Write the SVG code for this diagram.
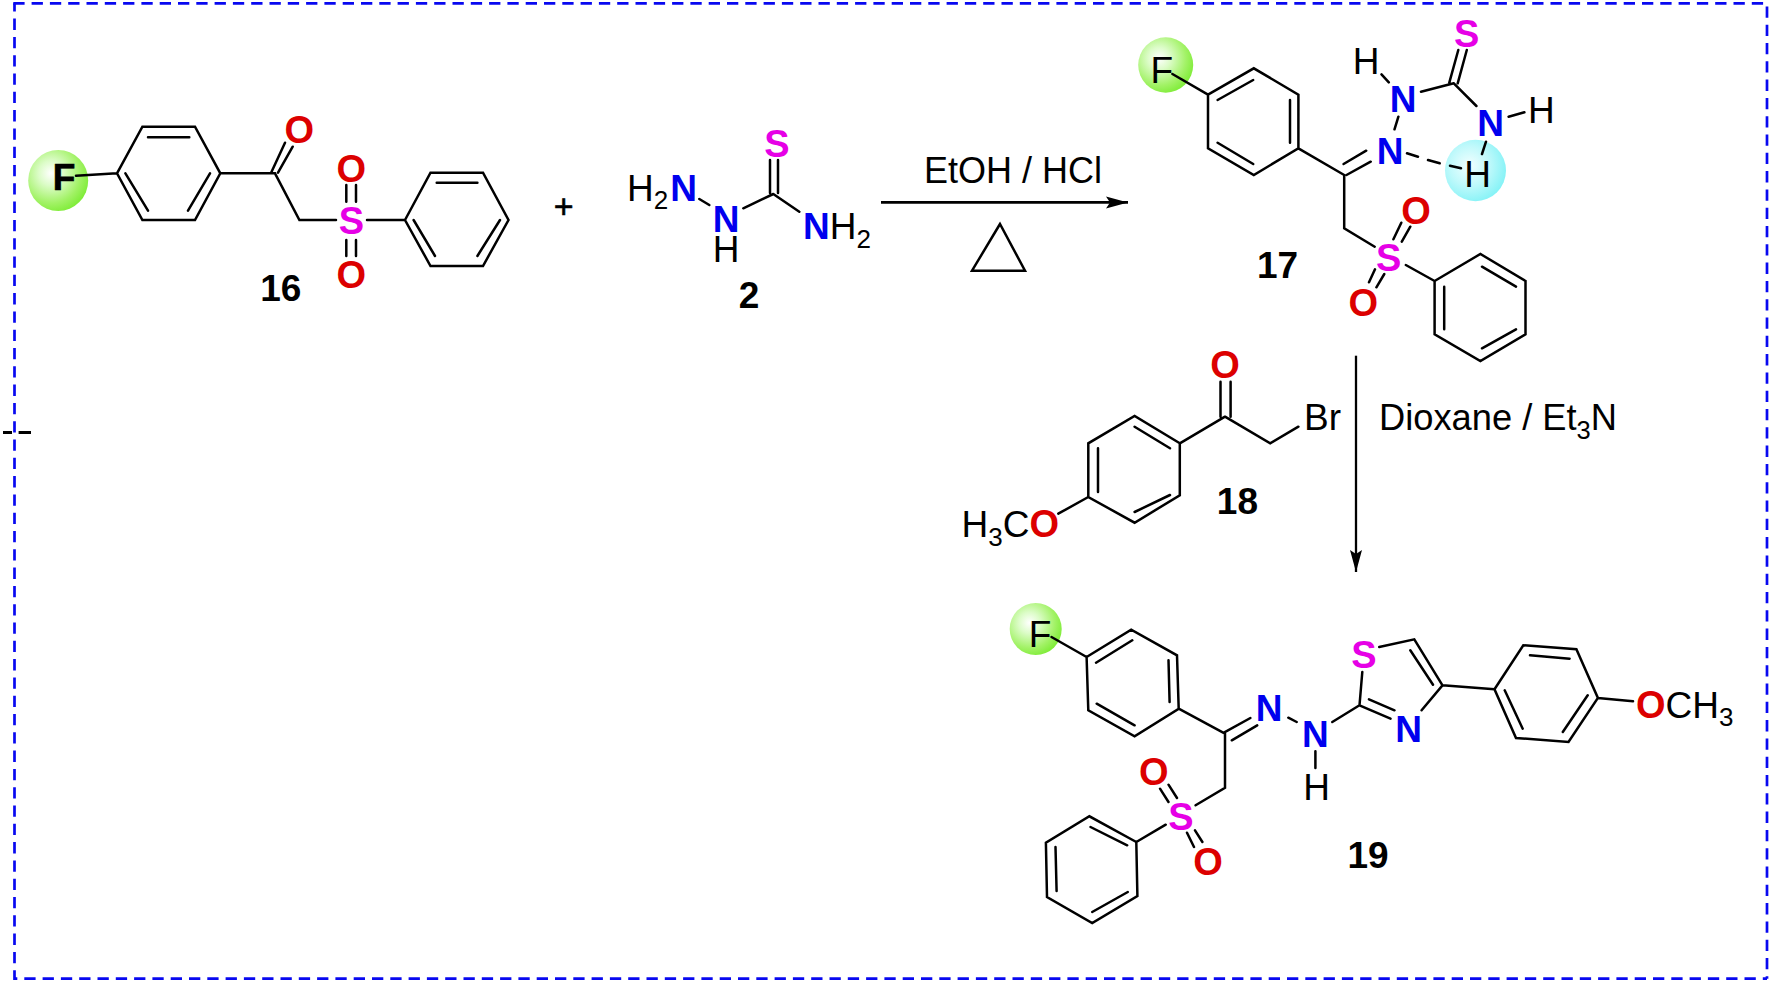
<svg xmlns="http://www.w3.org/2000/svg" width="1772" height="983" viewBox="0 0 1772 983">
<style>
.b{fill:none;stroke:#000;stroke-width:2.5;stroke-linecap:round;stroke-linejoin:miter}
.fr{fill:none;stroke:#0808f0;stroke-width:2.7;stroke-dasharray:11.3 7}
text{font-family:"Liberation Sans",Arial,sans-serif;font-size:37px;fill:#000;text-anchor:middle}
.N{fill:#0000ee;font-weight:700;font-size:37px}.O{fill:#dc0000;font-weight:700;font-size:38px}.S{fill:#e600e6;font-weight:700;font-size:38px}
.l{font-weight:700;font-size:37px}.s{text-anchor:start}
.sub{font-size:26px}
</style>
<defs>
<radialGradient id="gr" cx="38%" cy="38%" r="68%"><stop offset="0" stop-color="#ffffff"/><stop offset="0.3" stop-color="#dcfcc8"/><stop offset="0.72" stop-color="#a2f266"/><stop offset="1" stop-color="#7cec34"/></radialGradient>
<radialGradient id="cy" cx="40%" cy="42%" r="65%"><stop offset="0" stop-color="#f2ffff"/><stop offset="0.5" stop-color="#c0f9fb"/><stop offset="1" stop-color="#80f2f6"/></radialGradient>
<marker id="ah" markerUnits="userSpaceOnUse" markerWidth="24" markerHeight="14" refX="22" refY="7" orient="auto"><path d="M0 1L22 7L0 13L4 7Z" fill="#000"/></marker>
</defs>
<g id="frame">
<path class="fr" d="M13.3 3.3H1767V978.7"/>
<path class="fr" d="M14.5 3.3V978.7H1767" stroke-dashoffset="3"/>
</g>
<path id="stray" d="M3 432.5H12M18.6 432.5H31" stroke="#000" stroke-width="2.8" fill="none"/>
<g id="connectors">
<line x1="881" y1="202.4" x2="1128" y2="202.4" stroke="#000" stroke-width="2.6" marker-end="url(#ah)"/>
<line x1="1356" y1="355.7" x2="1356" y2="572" stroke="#000" stroke-width="2.3" marker-end="url(#ah)"/>
</g>
<g id="heat"><path class="b" d="M1000 224L972 270.7H1025Z"/></g>
<g id="c16">
<ellipse cx="58.2" cy="180.5" rx="30" ry="30.5" fill="url(#gr)"/>
<path class="b" d="M76 175.7L117 173.3M117 173.3L142.4 126.7H195L220.3 173.3L195 220H142.4ZM148 137.3H189.3M125.4 173.3L148 210.7M188 210.7L210 173.3M220.3 173.3H275M271 173L285 142.7M278 172.7L292.7 146.7M275 173.3L299.4 220H336M346.3 185V201.7M356 185V201.7M346.3 240V256M356 240V256M367 220H405M405 220L430.5 172.7H483L508.5 220L483 266H430.5ZM436.7 182.7H477.4M413.6 220L435 256M500 220L477.4 256"/>
<text x="64" y="190.3" class="l" stroke="#000" stroke-width="0.7">F</text>
<text x="299.4" y="142.5" class="O">O</text><text x="351.4" y="233.5" class="S">S</text><text x="351.4" y="181.5" class="O">O</text><text x="351.4" y="288" class="O">O</text>
<text x="280.8" y="300.5" class="l">16</text>
</g>
<g id="plus"><text x="563.8" y="218.2" stroke="#000" stroke-width="0.6" style="font-size:34px">+</text></g>
<g id="c2">
<path class="b" d="M699.3 199L709.3 205M743.3 208.3L773.3 194M770 193V160M778 193V160M773.3 194L799.3 211.7"/>
<text x="627" y="200.5" class="s">H<tspan class="sub" dy="8.5">2</tspan><tspan class="N" dx="2" dy="-8.5">N</tspan></text>
<text x="726" y="231.5" class="N">N</text><text x="726" y="262">H</text>
<text x="777" y="156.5" class="S">S</text>
<text x="803" y="239" class="s"><tspan class="N">N</tspan>H<tspan class="sub" dy="8.5">2</tspan></text>
<text x="749" y="308" class="l">2</text>
</g>
<g id="cond1"><text x="1013" y="183" textLength="178" lengthAdjust="spacingAndGlyphs">EtOH / HCl</text></g>
<g id="c17">
<ellipse cx="1165.7" cy="65" rx="27.5" ry="27.7" fill="url(#gr)"/>
<ellipse cx="1475.5" cy="170.5" rx="30.5" ry="30.7" fill="url(#cy)"/>
<path class="b" d="M1172.4 74L1208 94.7M1208 94.7L1253.8 68.3L1298.4 94.7V148.3L1253.8 175L1208 148.3ZM1217.6 100L1253.2 80M1290 100V142.7M1217.6 142.7L1253.2 164M1298.4 148.3L1344.2 175M1343.6 164L1366.2 150.7M1346.5 175L1370.7 161.7M1394.5 129.3L1398.4 116.7M1381.5 74.3L1388.8 82.3M1421 91.7L1453.8 83.3M1449.3 82.7L1458.3 50M1457.7 83.3L1466.8 50M1453.8 83.3L1476.4 106M1508.6 116.7L1524.4 112.3M1486 141.7L1482 154M1407 153.3L1418 156.7M1428 160L1439.7 163.3M1450 165.7L1461 168.3M1344.2 175V228.3L1374.7 246.7M1393.4 239.3L1401.3 222.7M1401.8 241.7L1410.3 226.7M1369 282.3L1375 269.3M1376.4 287.3L1384.3 274M1405.8 265L1434.6 281M1434.6 281L1480.4 254L1525.5 281V334.3L1480.4 361L1434.6 334.3ZM1482 266.7L1516 286.7M1444.2 286.7V329.3M1482 348.3L1516 329.3"/>
<text x="1161.7" y="83">F</text>
<text x="1390" y="163.5" class="N">N</text><text x="1403" y="111.5" class="N">N</text><text x="1366" y="74">H</text>
<text x="1466.8" y="46.5" class="S">S</text><text x="1490.5" y="136" class="N">N</text><text x="1541.4" y="122.5">H</text>
<text x="1477.5" y="186.5">H</text>
<text x="1388.8" y="270.5" class="S">S</text><text x="1416" y="223.5" class="O">O</text><text x="1363.4" y="315.5" class="O">O</text>
<text x="1277.5" y="277.7" class="l">17</text>
</g>
<g id="cond2"><text x="1379" y="430" class="s" textLength="238" lengthAdjust="spacingAndGlyphs">Dioxane / Et<tspan class="sub" dy="8.5">3</tspan><tspan dy="-8.5">N</tspan></text></g>
<g id="c18">
<path class="b" d="M1220.5 416.7V381.7M1230.6 416.7V381.7M1225 416.7L1179.8 443.3M1225 416.7L1270.2 443.3L1298.4 426.7M1179.8 443.3L1134.6 416L1088.3 443.3V497L1134.6 522.7L1179.8 495.3ZM1134.6 426.7L1170 448.3M1098 448.3V492M1134.6 512L1170 495M1088.3 497L1058.3 513.7"/>
<text x="1225" y="378" class="O">O</text>
<text x="1304" y="430" class="s">Br</text>
<text x="961.5" y="537" class="s">H<tspan class="sub" dy="8.5">3</tspan><tspan dy="-8.5">C</tspan><tspan class="O">O</tspan></text>
<text x="1237.4" y="514" class="l">18</text>
</g>
<g id="c19">
<ellipse cx="1035.7" cy="629" rx="26" ry="26" fill="url(#gr)"/>
<path class="b" d="M1051.5 637L1086.6 657M1086.6 657L1131.2 629.7L1177 655.3L1178.7 708.7L1134.6 736.3L1088.3 710.3ZM1096 662.7L1132.3 640.3M1168.5 660.3L1169.6 702M1096.7 703.7L1134.6 725.3M1178.7 708.7L1225 733.7M1223.9 732.7L1250.4 718M1231.8 740.3L1257.2 725.3M1288.3 717.7L1296.7 722M1315.4 751.3V768M1332.3 722L1359.5 705.3M1359.5 705.3L1362.3 672M1379.2 647L1414.3 639.3L1442.5 685.3L1421.6 710.3M1410.3 650.3L1433 684.7M1359.5 705.3L1390.5 718.7M1369 699.3L1394.5 710.3M1442.5 685.3L1494.5 689.3M1494.5 689.3L1523.3 645.3L1576.4 649.3L1597.9 698L1568.5 742L1516 738ZM1530 655.3L1569.6 658.7M1504.7 690.3L1522.7 728.7M1562.8 732L1587.7 695.3M1597.9 698L1633 701.3M1225 733.7V787.7L1195.6 805.3M1160 788.7L1168.5 802M1168.5 784.7L1177 798M1187 832.7L1194 847M1195 830.3L1202.4 842M1165.7 824.7L1136.3 842M1136.3 842L1089.4 816.3L1045.9 842.7L1047 897L1092.2 923L1137.4 896ZM1090.5 827L1127.2 845.3M1055.5 847L1056.6 891M1092.2 912L1127.8 892"/>
<text x="1040" y="646.5">F</text>
<text x="1269" y="721" class="N">N</text><text x="1315.4" y="747" class="N">N</text><text x="1316.5" y="799.5">H</text>
<text x="1364" y="667.5" class="S">S</text><text x="1408.6" y="741.5" class="N">N</text>
<text x="1636" y="717.5" class="s"><tspan class="O">O</tspan>CH<tspan class="sub" dy="8.5">3</tspan></text>
<text x="1181" y="829.5" class="S">S</text><text x="1153.8" y="785" class="O">O</text><text x="1208" y="874.5" class="O">O</text>
<text x="1368" y="867.5" class="l">19</text>
</g>
</svg>
